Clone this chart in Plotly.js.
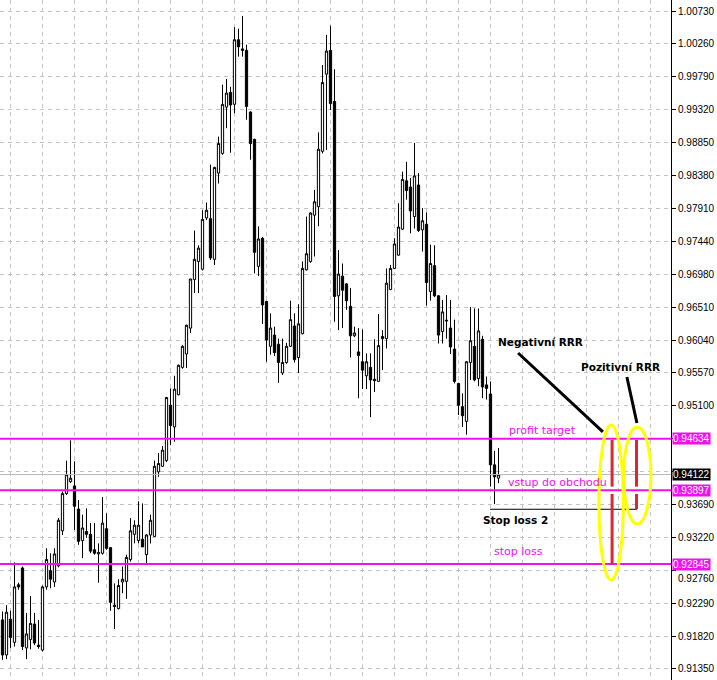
<!DOCTYPE html>
<html>
<head>
<meta charset="utf-8">
<script src="https://cdn.plot.ly/plotly-3.0.1.min.js"></script>
<style>html,body{margin:0;padding:0;background:#fff;}#chart{width:717px;height:680px;}</style>
</head>
<body>
<div id="chart"></div>
<script>
// OHLC candles (bar index 0..124)
const open = [0.9205,0.9155,0.9206,0.9173,0.9255,0.9279,0.9165,0.9177,0.9199,0.9169,
0.9162,0.9252,0.9275,0.9259,0.9282,0.9332,0.9385,0.9402,0.9396,0.9363,
0.9318,0.9331,0.9327,0.9305,0.9299,0.9300,0.9335,0.9308,0.9226,0.9221,
0.9259,0.9260,0.9291,0.9327,0.9318,0.9320,0.9298,0.9326,0.9324,0.9416,
0.9424,0.9432,0.9511,0.9480,0.9526,0.9565,0.9584,0.9621,0.9690,0.9716,
0.9705,0.9778,0.9777,0.9719,0.9842,0.9870,0.9936,0.9957,0.9940,1.0032,
1.0019,1.0017,0.9929,0.9890,0.9709,0.9749,0.9659,0.9595,0.9611,0.9598,
0.9557,0.9572,0.9595,0.9624,0.9579,0.9613,0.9704,0.9716,0.9782,0.9794,
0.9873,0.9983,1.0017,0.9944,0.9667,0.9695,0.9684,0.9652,0.9610,0.9587,
0.9573,0.9553,0.9565,0.9548,0.9545,0.9609,0.9606,0.9676,0.9706,0.9725,
0.9762,0.9831,0.9822,0.9780,0.9825,0.9761,0.9769,0.9673,0.9710,0.9667,
0.9616,0.9631,0.9621,0.9591,0.9542,0.9509,0.9488,0.9572,0.9595,0.9549,
0.9605,0.9540,0.9527,0.9426,0.9407];
const high = [0.9217,0.9226,0.9218,0.9287,0.9258,0.9281,0.9215,0.9239,0.9215,0.9205,
0.9254,0.9307,0.9300,0.9307,0.9350,0.9388,0.9432,0.9461,0.9431,0.9376,
0.9355,0.9364,0.9343,0.9343,0.9314,0.9380,0.9357,0.9309,0.9257,0.9263,
0.9281,0.9298,0.9350,0.9347,0.9374,0.9371,0.9327,0.9355,0.9432,0.9443,
0.9453,0.9523,0.9535,0.9553,0.9569,0.9597,0.9626,0.9691,0.9760,0.9739,
0.9789,0.9800,0.9854,0.9851,0.9894,0.9968,0.9976,0.9965,1.0050,1.0048,
1.0066,1.0025,0.9930,0.9891,0.9766,0.9751,0.9660,0.9642,0.9623,0.9606,
0.9606,0.9600,0.9660,0.9642,0.9655,0.9716,0.9780,0.9786,0.9818,0.9900,
0.9996,1.0039,1.0052,0.9990,0.9732,0.9713,0.9685,0.9678,0.9623,0.9621,
0.9619,0.9585,0.9585,0.9605,0.9641,0.9618,0.9706,0.9711,0.9749,0.9799,
0.9844,0.9858,0.9835,0.9885,0.9842,0.9792,0.9786,0.9740,0.9739,0.9668,
0.9661,0.9668,0.9661,0.9633,0.9543,0.9528,0.9574,0.9651,0.9649,0.9649,
0.9610,0.9552,0.9545,0.9446,0.9450];
const low = [0.9148,0.9149,0.9165,0.9167,0.9248,0.9162,0.9149,0.9163,0.9169,0.9164,
0.9160,0.9248,0.9250,0.9252,0.9280,0.9326,0.9383,0.9400,0.9333,0.9312,
0.9293,0.9322,0.9300,0.9298,0.9258,0.9298,0.9305,0.9218,0.9192,0.9220,
0.9243,0.9235,0.9288,0.9314,0.9314,0.9309,0.9285,0.9314,0.9323,0.9409,
0.9423,0.9430,0.9454,0.9459,0.9525,0.9563,0.9564,0.9614,0.9671,0.9671,
0.9703,0.9775,0.9718,0.9711,0.9827,0.9868,0.9906,0.9871,0.9927,1.0008,
1.0008,0.9918,0.9861,0.9699,0.9695,0.9627,0.9573,0.9583,0.9581,0.9543,
0.9554,0.9570,0.9594,0.9572,0.9557,0.9612,0.9703,0.9714,0.9723,0.9766,
0.9870,0.9875,0.9932,0.9630,0.9618,0.9621,0.9647,0.9579,0.9608,0.9521,
0.9534,0.9534,0.9494,0.9530,0.9545,0.9561,0.9592,0.9675,0.9705,0.9724,
0.9761,0.9804,0.9756,0.9763,0.9758,0.9730,0.9653,0.9660,0.9665,0.9599,
0.9599,0.9606,0.9584,0.9542,0.9497,0.9480,0.9469,0.9547,0.9545,0.9538,
0.9521,0.9519,0.9395,0.9370,0.9400];
const close = [0.9155,0.9216,0.9180,0.9252,0.9252,0.9167,0.9185,0.9200,0.9172,0.9167,
0.9252,0.9291,0.9263,0.9299,0.9347,0.9385,0.9412,0.9407,0.9367,0.9317,
0.9336,0.9327,0.9303,0.9300,0.9301,0.9343,0.9307,0.9230,0.9224,0.9254,
0.9263,0.9294,0.9332,0.9340,0.9340,0.9309,0.9326,0.9347,0.9424,0.9428,
0.9447,0.9522,0.9482,0.9534,0.9568,0.9595,0.9625,0.9691,0.9719,0.9735,
0.9776,0.9789,0.9721,0.9850,0.9884,0.9940,0.9956,0.9939,1.0032,1.0022,
1.0017,0.9937,0.9884,0.9729,0.9748,0.9654,0.9604,0.9621,0.9586,0.9572,
0.9572,0.9595,0.9633,0.9576,0.9627,0.9706,0.9727,0.9785,0.9801,0.9876,
0.9971,1.0016,0.9941,0.9666,0.9698,0.9675,0.9660,0.9610,0.9614,0.9582,
0.9561,0.9573,0.9547,0.9546,0.9596,0.9606,0.9685,0.9706,0.9741,0.9765,
0.9833,0.9817,0.9788,0.9838,0.9760,0.9774,0.9686,0.9713,0.9667,0.9611,
0.9644,0.9632,0.9594,0.9545,0.9511,0.9496,0.9573,0.9603,0.9547,0.9617,
0.9537,0.9535,0.9426,0.9409,0.9412];

// price axis ticks (labels hidden under the level boxes are left blank)
const tickVals = [1.00730,1.00260,0.99790,0.99320,0.98850,0.98380,0.97910,0.97440,0.96980,0.96510,
0.96040,0.95570,0.95100,0.94630,0.94160,0.93690,0.93220,0.92760,0.92290,0.91820,0.91350];
const tickText = ["1.00730","1.00260","0.99790","0.99320","0.98850","0.98380","0.97910","0.97440","0.96980","0.96510",
"0.96040","0.95570","0.95100","","","0.93690","0.93220","","0.92290","0.91820","0.91350"];
const partlyHiddenTick = 0.92760;
const partlyHiddenText = "0.92760";

// horizontal levels
const profitTarget = 0.94634;
const entryLevel = 0.93897;
const stopLoss = 0.92845;
const stopLoss2 = 0.93627;
const bidPrice = 0.94122;

const bars = open.map((_, i) => i);

const MAG = '#ee11ee';
const RED = '#dd2630';
const YEL = '#ffff00';

const trace = {
  type: 'candlestick',
  x: bars, open: open, high: high, low: low, close: close,
  increasing: {line: {color: '#000', width: 1}, fillcolor: '#ffffff'},
  decreasing: {line: {color: '#000', width: 1}, fillcolor: '#000000'},
  whiskerwidth: 0,
  hoverinfo: 'skip',
  showlegend: false
};

function hline(y, color, width) {
  return {type: 'line', xref: 'paper', x0: 0, x1: 1, yref: 'y', y0: y, y1: y,
          line: {color: color, width: width}, layer: 'above'};
}
function seg(x0, y0, x1, y1, color, width) {
  return {type: 'line', xref: 'x', yref: 'y', x0: x0, y0: y0, x1: x1, y1: y1,
          line: {color: color, width: width}, layer: 'above'};
}

const shapes = [
  hline(bidPrice, '#b8b8b8', 1),
  hline(profitTarget, MAG, 2),
  hline(entryLevel, MAG, 2),
  hline(stopLoss, MAG, 2),
  seg(121.9, stopLoss2, 158.6, stopLoss2, '#000', 1),
  // red risk/reward bars
  seg(152.4, 0.94615, 152.4, 0.93950, RED, 3),
  seg(152.4, 0.93845, 152.4, stopLoss, RED, 3),
  seg(158.5, 0.94615, 158.5, 0.93950, RED, 3),
  seg(158.5, 0.93845, 158.5, stopLoss2, RED, 3),
  // ellipses
  {type: 'circle', xref: 'x', yref: 'y', x0: 149.1, x1: 155.2, y0: 0.92619, y1: 0.94829,
   line: {color: YEL, width: 3}, layer: 'above'},
  {type: 'circle', xref: 'x', yref: 'y', x0: 155.3, x1: 162.1, y0: 0.93417, y1: 0.94800,
   line: {color: YEL, width: 3}, layer: 'above'},
  // pointer lines
  seg(128.9, 0.95855, 150.1, 0.94729, '#000', 3),
  seg(156.1, 0.95513, 158.6, 0.94857, '#000', 3)
];

function label(x, y, text, color, bold) {
  return {xref: 'x', yref: 'y', x: x, y: y, text: bold ? '<b>' + text + '</b>' : text,
          showarrow: false, xanchor: 'center', yanchor: 'middle',
          font: {family: 'DejaVu Sans', size: bold ? 10.5 : 11, color: color}};
}
function priceBox(y, text, bg) {
  return {xref: 'paper', yref: 'y', x: 1, y: y, xanchor: 'left', yanchor: 'middle', xshift: 1,
          text: text, showarrow: false, bgcolor: bg, borderpad: 0,
          font: {family: 'Liberation Sans', size: 10, color: '#ffffff'}};
}

const annotations = [
  {xref: 'paper', yref: 'y', x: 1, y: partlyHiddenTick, xanchor: 'left', yanchor: 'top',
   xshift: 5, yshift: -1, text: partlyHiddenText, showarrow: false,
   font: {family: 'Liberation Sans', size: 10, color: '#000'}},
  label(134.9, 0.94757, 'profit target', MAG, false),
  label(138.7, 0.94002, 'vstup do obchodu', MAG, false),
  label(128.9, 0.93018, 'stop loss', MAG, false),
  label(128.3, 0.93474, 'Stop loss 2', '#000', true),
  label(134.5, 0.96012, 'Negativní RRR', '#000', true),
  label(154.6, 0.95655, 'Pozitivní RRR', '#000', true),
  priceBox(profitTarget, '0.94634', MAG),
  priceBox(bidPrice, '0.94122', '#000000'),
  priceBox(entryLevel, '0.93897', MAG),
  priceBox(stopLoss, '0.92845', MAG)
];

const layout = {
  width: 717, height: 680,
  margin: {l: 0, r: 46, t: 0, b: 0, pad: 0},
  paper_bgcolor: '#ffffff', plot_bgcolor: '#ffffff',
  showlegend: false,
  boxgap: 0.2,
  xaxis: {
    range: [-0.625, 167.125], showticklabels: false, ticks: '',
    showgrid: true, gridcolor: '#c4c4c4', griddash: '4px,4px', gridwidth: 1,
    tick0: 2, dtick: 8, zeroline: false, showline: false,
    rangeslider: {visible: false}, fixedrange: true
  },
  yaxis: {
    side: 'right', range: [0.91193, 1.00887],
    tickmode: 'array', tickvals: tickVals, ticktext: tickText,
    showgrid: true, gridcolor: '#c4c4c4', griddash: '4px,4px', gridwidth: 1,
    showline: true, linecolor: '#000', linewidth: 1, mirror: false,
    ticks: 'outside', ticklen: 4, tickcolor: '#000', tickwidth: 1,
    tickfont: {family: 'Liberation Sans', size: 10, color: '#000'},
    zeroline: false, fixedrange: true
  },
  shapes: shapes,
  annotations: annotations
};

Plotly.newPlot('chart', [trace], layout, {staticPlot: true, displayModeBar: false});
</script>
</body>
</html>
